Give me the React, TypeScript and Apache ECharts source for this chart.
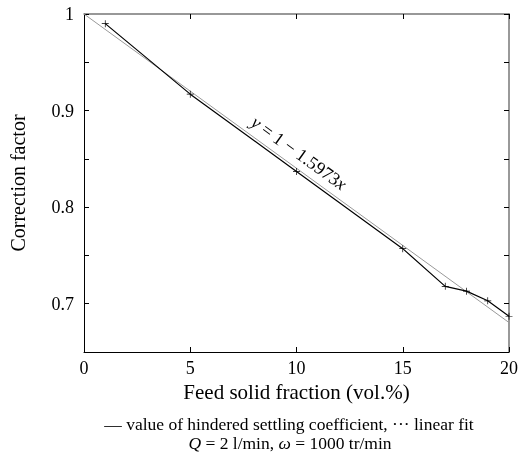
import React, { useEffect, useRef } from "react";
import * as echarts from "echarts";

const feedFraction = [1, 5, 10, 15, 17, 18, 19, 20];
const correctionFactor = [0.99, 0.917, 0.837, 0.757, 0.718, 0.713, 0.703, 0.687];
const fitX = [0, 20];
const fitY = [1, 0.6805];
const fitLabel = "{i|y} = 1 − 1.5973{i|x}";
const xTitle = "Feed solid fraction (vol.%)";
const yTitle = "Correction factor";
const captionLine1 = "— value of hindered settling coefficient, ··· linear fit";
const captionLine2 = "{i|Q} = 2 l/min, {i|ω} = 1000 tr/min";

const FONT = "Liberation Serif";

export default function App() {
  const ref = useRef<HTMLDivElement>(null);
  useEffect(() => {
    if (!ref.current) return;
    const chart = echarts.init(ref.current, undefined, { renderer: "svg" });
    const labelStyle = { fontFamily: FONT, fontSize: 18, color: "#000" };
    const yFmt = (v: number) => {
      const r = Math.round(v * 100);
      if (r % 10 !== 0) return "";
      return r === 100 ? "1" : (r / 100).toFixed(1);
    };
    chart.setOption({
      animation: false,
      grid: { left: 83, right: 9, top: 14, bottom: 107, containLabel: false },
      xAxis: [
        {
          type: "value", min: 0, max: 20, interval: 5, position: "bottom",
          axisLine: { show: true, onZero: false, lineStyle: { color: "#000", width: 1 } },
          axisTick: { show: true, inside: true, length: 5, lineStyle: { color: "#000" } },
          axisLabel: { ...labelStyle, margin: 7 },
          splitLine: { show: false },
          name: xTitle, nameLocation: "middle", nameGap: 29,
          nameTextStyle: { fontFamily: FONT, fontSize: 21, color: "#000" },
        },
        {
          type: "value", min: 0, max: 20, interval: 5, position: "top",
          axisLine: { show: true, onZero: false, lineStyle: { color: "#777", width: 1.5 } },
          axisTick: { show: true, inside: true, length: 5, lineStyle: { color: "#000" } },
          axisLabel: { show: false },
          splitLine: { show: false },
        },
      ],
      yAxis: [
        {
          type: "value", min: 0.65, max: 1, interval: 0.05, position: "left",
          axisLine: { show: true, onZero: false, lineStyle: { color: "#000", width: 1 } },
          axisTick: { show: true, inside: true, length: 5, lineStyle: { color: "#000" } },
          axisLabel: { ...labelStyle, margin: 10, formatter: yFmt },
          splitLine: { show: false },
          name: yTitle, nameLocation: "middle", nameGap: 56,
          nameTextStyle: { fontFamily: FONT, fontSize: 20, color: "#000" },
        },
        {
          type: "value", min: 0.65, max: 1, interval: 0.05, position: "right",
          axisLine: { show: true, onZero: false, lineStyle: { color: "#777", width: 1.5 } },
          axisTick: { show: true, inside: true, length: 5, lineStyle: { color: "#000" } },
          axisLabel: { show: false },
          splitLine: { show: false },
        },
      ],
      series: [
        {
          type: "line",
          data: fitX.map((x, i) => [x, fitY[i]]),
          showSymbol: false,
          symbol: "none",
          lineStyle: { color: "#999", width: 1 },
          z: 2,
        },
        {
          type: "line",
          data: feedFraction.map((x, i) => [x, correctionFactor[i]]),
          symbol: "path://M4.5,0H5.5V4.5H10V5.5H5.5V10H4.5V5.5H0V4.5H4.5Z",
          symbolSize: 7,
          itemStyle: { color: "#000" },
          lineStyle: { color: "#000", width: 1.2 },
          z: 3,
        },
      ],
    });
    const p = chart.convertToPixel({ xAxisIndex: 0, yAxisIndex: 0 }, [10.12, 0.856]) as number[];
    chart.setOption({
      graphic: [
        {
          type: "text",
          x: p[0], y: p[1],
          rotation: -0.623,
          style: {
            text: fitLabel,
            fontFamily: FONT, fontSize: 18, fill: "#000",
            align: "center", verticalAlign: "middle",
            rich: { i: { fontStyle: "italic", fontFamily: FONT, fontSize: 18, fill: "#000" } },
          },
        },
        {
          type: "text",
          x: 289, y: 424,
          style: {
            text: captionLine1,
            fontFamily: FONT, fontSize: 17.5, lineHeight: 17, fill: "#000",
            align: "center", verticalAlign: "middle",
          },
        },
        {
          type: "text",
          x: 290, y: 443,
          style: {
            text: captionLine2,
            fontFamily: FONT, fontSize: 17.5, lineHeight: 17, fill: "#000",
            align: "center", verticalAlign: "middle",
            rich: { i: { fontStyle: "italic", fontFamily: FONT, fontSize: 17.5, lineHeight: 17, fill: "#000" } },
          },
        },
      ],
    });
    return () => chart.dispose();
  }, []);
  return <div ref={ref} style={{ position: "fixed", left: 0, top: 0, width: 521, height: 459 }} />;
}
